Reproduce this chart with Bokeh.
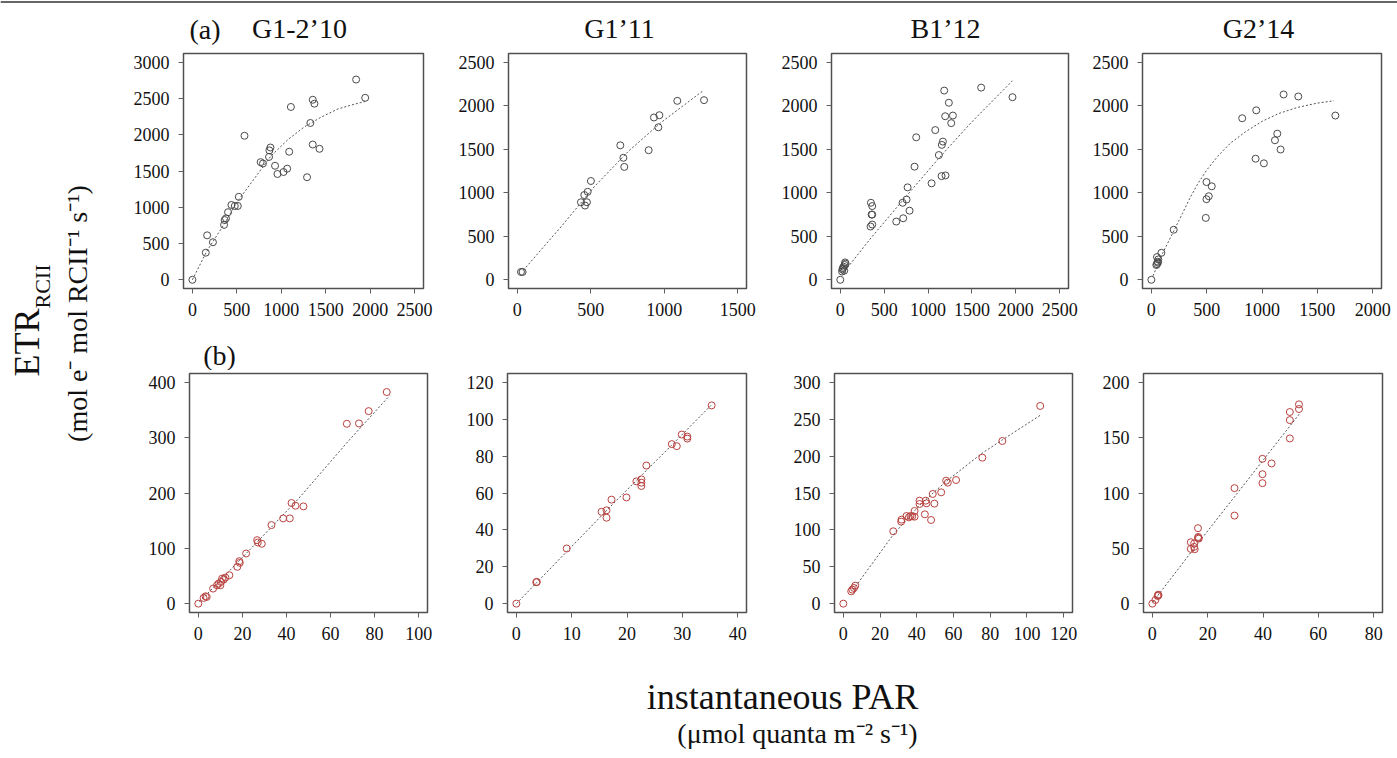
from math import pi
from bokeh.plotting import figure
from bokeh.layouts import column, row
from bokeh.models import Label, FixedTicker, Range1d, Span
from bokeh.embed import file_html
from bokeh.resources import INLINE

FONT = "Liberation Serif"

# ---------------- data ----------------
titles = ["G1-2\u201910", "G1\u201911", "B1\u201912", "G2\u201914"]
row_tags = ["(a)", "(b)"]

# (a) G1-2'10
p1_x = [0, 151, 166, 231, 356, 363, 378, 401, 439, 477, 511, 522, 586, 768, 794, 862, 866, 878,
        930, 957, 1025, 1066, 1089, 1108, 1290, 1327, 1354, 1373, 1354, 1430, 1842, 1944]
p1_y = [0, 374, 613, 518, 757, 824, 847, 932, 1032, 1018, 1018, 1144, 1986, 1622, 1604, 1694, 1784, 1824,
        1572, 1459, 1486, 1532, 1766, 2383, 1414, 2162, 2482, 2428, 1865, 1806, 2761, 2509]
p1_fx = [0, 163, 352, 503, 692, 881, 1070, 1259, 1449, 1638, 1827, 1944]
p1_fy = [0, 396, 757, 1072, 1387, 1703, 1928, 2108, 2243, 2356, 2423, 2459]

# (a) G1'11
p2_x = [25, 36, 433, 456, 461, 474, 479, 501, 701, 722, 728, 894, 930, 960, 967, 1089, 1271]
p2_y = [90, 90, 891, 974, 853, 891, 1011, 1135, 1545, 1402, 1297, 1489, 1865, 1752, 1891, 2056, 2064]
p2_fx = [41, 300, 529, 760, 982, 1262]
p2_fy = [109, 614, 1079, 1483, 1812, 2169]

# (a) B1'12
p3_x = [0, 20, 25, 30, 38, 45, 50, 55, 60, 345, 364, 349, 364, 357, 364, 638, 717, 710, 755, 767, 789,
        846, 865, 1040, 1082, 1123, 1154, 1157, 1169, 1184, 1195, 1199, 1237, 1264, 1283, 1605, 1962]
p3_y = [0, 95, 120, 135, 150, 105, 170, 200, 185, 612, 635, 885, 847, 749, 749, 669, 707, 885, 922, 1062, 794,
        1300, 1637, 1108, 1720, 1433, 1191, 1550, 1588, 2174, 1879, 1199, 2034, 1800, 1887, 2208, 2098]
p3_fx = [53, 349, 729, 1108, 1488, 1962]
p3_fy = [102, 480, 934, 1380, 1803, 2287]

# (a) G2'14
p4_x = [0, 45, 51, 57, 60, 63, 51, 91, 202, 492, 498, 498, 519, 546, 821, 948, 942, 1017, 1117, 1138,
        1168, 1195, 1328, 1663]
p4_y = [0, 170, 180, 208, 197, 234, 261, 310, 575, 711, 1123, 926, 960, 1074, 1856, 1947, 1391, 1338, 1603, 1679,
        1497, 2129, 2106, 1887]
p4_fx = [15, 100, 202, 280, 353, 420, 500, 600, 715, 850, 1000, 1150, 1319, 1500, 1651]
p4_fy = [45, 300, 560, 760, 950, 1105, 1260, 1420, 1570, 1700, 1820, 1910, 1980, 2030, 2057]

# (b) G1-2'10
p5_x = [0, 2.4, 3.3, 3.8, 6.7, 8.5, 9.2, 10.0, 10.3, 10.8, 11.5, 12.3, 14.1, 17.7, 18.6, 18.8, 21.7,
        26.7, 27.0, 28.8, 33.2, 38.5, 41.5, 42.3, 44.1, 47.7, 67.4, 72.9, 77.3, 85.5]
p5_y = [0, 10.3, 13.3, 12.1, 27.2, 33.2, 36.3, 33.2, 39.3, 45.3, 43.5, 47.1, 51.4, 66.5, 76.7, 73.7, 90.6,
        114.8, 110.6, 108.2, 142.0, 154.1, 154.1, 181.9, 177.0, 175.8, 325.1, 325.7, 348.0, 382.5]
p5_fx = [0.5, 21.7, 45.2, 67.9, 86.8]
p5_fy = [3, 90.6, 188.5, 293, 376]

# (b) G1'11
p6_x = [0, 3.6, 3.7, 9.1, 15.4, 16.3, 16.3, 17.2, 19.9, 21.7, 22.6, 22.6, 22.6, 23.5, 28.1, 29.0, 29.9,
        30.9, 30.9, 35.3]
p6_y = [0, 11.6, 11.8, 29.9, 49.8, 46.6, 50.6, 56.4, 57.6, 66.3, 67.4, 65.6, 63.8, 74.9, 86.5, 85.4, 91.7,
        90.6, 89.5, 107.5]
p6_fx = [0, 9.1, 18.0, 28.1, 35.4]
p6_fy = [0, 28.2, 55.7, 86.0, 108.2]

# (b) B1'12
p7_x = [0, 4.3, 4.9, 5.8, 6.5, 27.2, 31.5, 31.7, 34.4, 35.7, 36.6, 37.5, 38.8, 38.8, 41.5, 41.5, 44.4,
        44.9, 45.3, 47.8, 48.7, 49.6, 53.3, 56.0, 56.9, 61.4, 75.7, 86.6, 107.2]
p7_y = [0, 16.7, 19.0, 21.2, 24.4, 98.1, 111.2, 113.9, 118.8, 117.0, 118.8, 118.4, 125.6, 117.9, 139.6, 135.1, 121.1,
        139.6, 136.0, 113.4, 148.7, 135.6, 150.9, 166.7, 164.0, 167.6, 197.9, 220.5, 268.0]
p7_fx = [5.4, 27.2, 41.5, 56.0, 75.7, 86.6, 107.2]
p7_fy = [19, 93.5, 133.3, 165.8, 204.2, 222.0, 255.3]

# (b) G2'14
p8_x = [0, 1.1, 1.9, 2.1, 2.2, 13.9, 13.9, 15.1, 15.1, 15.3, 16.5, 16.6, 16.8, 16.5, 29.7, 29.7, 39.8,
        39.8, 39.8, 43.1, 49.7, 49.7, 49.7, 53.0, 53.0]
p8_y = [0, 3.3, 6.9, 8.1, 7.5, 55.5, 49.5, 54.3, 51.3, 49.2, 68.2, 60.3, 58.8, 59.4, 104.4, 79.6, 130.9,
        117.0, 108.9, 126.7, 173.2, 165.9, 149.3, 180.1, 175.9]
p8_fx = [0.2, 16.0, 30.0, 40.0, 53.2]
p8_fy = [1.5, 53.0, 97.5, 129.5, 171.6]

# axis limits and ticks
x_lims = [(0, 2500), (0, 1500), (0, 2500), (0, 2000), (0, 100), (0, 40), (0, 120), (0, 80)]
y_lims = [(0, 3000), (0, 2500), (0, 2500), (0, 2500), (0, 400), (0, 120), (0, 300), (0, 200)]
x_ticks = [[0, 500, 1000, 1500, 2000, 2500], [0, 500, 1000, 1500], [0, 500, 1000, 1500, 2000, 2500],
           [0, 500, 1000, 1500, 2000], [0, 20, 40, 60, 80, 100], [0, 10, 20, 30, 40],
           [0, 20, 40, 60, 80, 100, 120], [0, 20, 40, 60, 80]]
y_ticks = [[0, 500, 1000, 1500, 2000, 2500, 3000], [0, 500, 1000, 1500, 2000, 2500],
           [0, 500, 1000, 1500, 2000, 2500], [0, 500, 1000, 1500, 2000, 2500],
           [0, 100, 200, 300, 400], [0, 20, 40, 60, 80, 100, 120],
           [0, 50, 100, 150, 200, 250, 300], [0, 50, 100, 150, 200]]

pts = [(p1_x, p1_y, p1_fx, p1_fy), (p2_x, p2_y, p2_fx, p2_fy), (p3_x, p3_y, p3_fx, p3_fy),
       (p4_x, p4_y, p4_fx, p4_fy), (p5_x, p5_y, p5_fx, p5_fy), (p6_x, p6_y, p6_fx, p6_fy),
       (p7_x, p7_y, p7_fx, p7_fy), (p8_x, p8_y, p8_fx, p8_fy)]

# ---------------- layout geometry (pixels) ----------------
cell_w = [317, 320, 315, 317]
row_h = [285, 280]
borders = [  # (left, right, top, bottom)
    (55, 22, 8, 39), (63, 19, 8, 39), (66, 12, 4, 42), (62, 16, 4, 42),
    (61, 18, 3, 37), (62, 19, 3, 37), (69, 8, 3, 37), (63, 15, 2, 38),
]
colors = ["#4a4a4a"] * 4 + ["#b8423f"] * 4


def pad(lim):
    d = (lim[1] - lim[0]) * 0.04
    return Range1d(lim[0] - d, lim[1] + d)


def make_panel(i):
    x, y, fx, fy = pts[i]
    ml, mr, mt, mb = borders[i]
    p = figure(width=cell_w[i % 4], height=row_h[i // 4], x_range=pad(x_lims[i]), y_range=pad(y_lims[i]),
               output_backend="svg", toolbar_location=None,
               min_border_left=ml, min_border_right=mr, min_border_top=mt, min_border_bottom=mb)
    p.grid.visible = False
    p.outline_line_color = "#505050"
    p.outline_line_width = 1.5
    p.xaxis.ticker = FixedTicker(ticks=x_ticks[i])
    p.yaxis.ticker = FixedTicker(ticks=y_ticks[i])
    p.axis.axis_line_color = None
    p.axis.major_tick_line_color = "#606060"
    p.axis.major_tick_out = 5
    p.axis.major_tick_in = 0
    p.axis.minor_tick_line_color = None
    p.axis.major_label_text_font = FONT
    p.axis.major_label_text_font_size = "18px"
    p.axis.major_label_text_color = "#111111"
    p.axis.major_label_standoff = 9
    p.line(fx, fy, line_dash="2 2", line_color="#555555", line_width=1)
    p.scatter(x, y, marker="circle", size=7, fill_color=None, line_color=colors[i], line_width=1)
    return p


panels = [make_panel(i) for i in range(8)]


def blank(w, h, yr=(0, 1)):
    f = figure(width=w, height=h, output_backend="svg", toolbar_location=None, min_border=0,
               x_axis_location=None, y_axis_location=None, x_range=Range1d(0, 1), y_range=Range1d(*yr))
    f.grid.visible = False
    f.outline_line_color = None
    return f


def lab(text, x, y, size, angle=0.0):
    return Label(x=x, y=y, x_units="screen", y_units="screen", text=text, angle=angle,
                 text_align="center", text_baseline="middle", text_font=FONT,
                 text_font_size=size, text_color="#111111")


# title strip (with the thin rule at the very top)
top = blank(1397, 45, (0, 45))
top.add_layout(Span(location=43.5, dimension="width", line_color="#333333", line_width=1.5))
top.add_layout(lab(row_tags[0], 204.5, 16, "28px"))
for tx, t in zip([299, 619, 945, 1258], titles):
    top.add_layout(lab(t, tx, 17, "28px"))

# strip carrying "(b)"
mid = blank(1269, 40)
mid.add_layout(lab(row_tags[1], 91, 15, "28px"))

# y label
ylab = blank(128, 605)
ylab.add_layout(lab("ETR", 26, 308, "36px", pi / 2))
ylab.add_layout(lab("RCII", 42, 364, "22px", pi / 2))
ylab.add_layout(lab("(mol e\u207b mol RCII\u207b\u00b9 s\u207b\u00b9)", 77, 337, "28px", pi / 2))

# x label
xlab = blank(1397, 108)
xlab.add_layout(lab("instantaneous PAR", 782, 62, "36px"))
xlab.add_layout(lab("(\u03bcmol quanta m\u207b\u00b2 s\u207b\u00b9)", 797, 25, "28px"))

grid = column(row(*panels[:4]), mid, row(*panels[4:]))
layout = column(top, row(ylab, grid), xlab)

open("out.html", "w").write(file_html(layout, INLINE))
